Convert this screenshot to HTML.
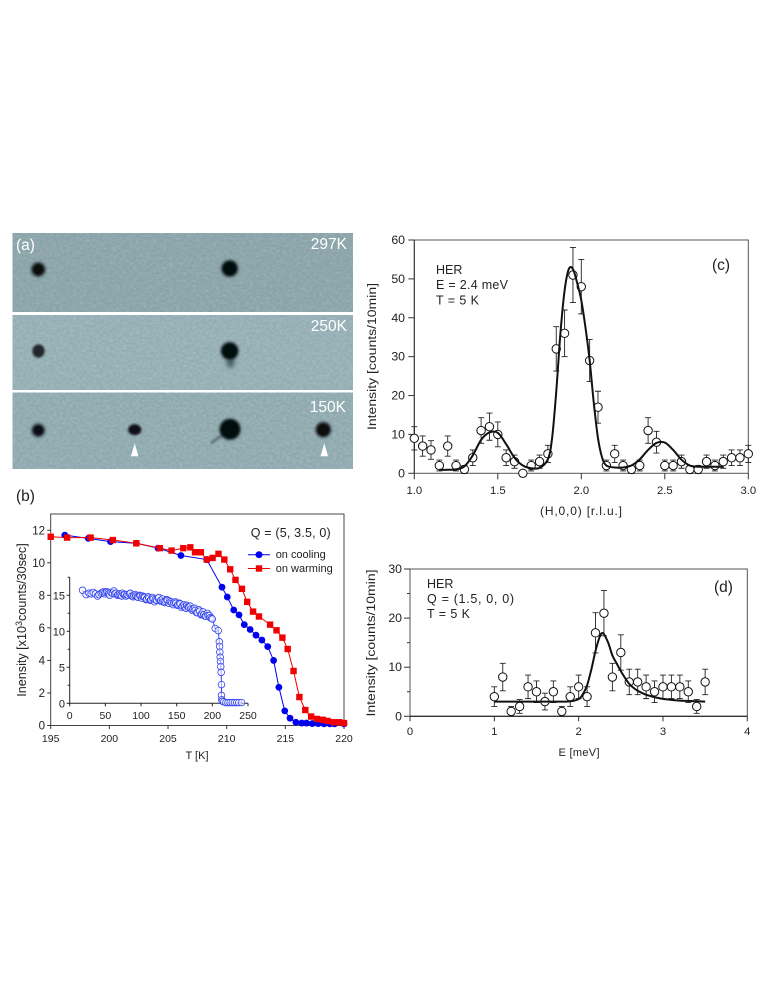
<!DOCTYPE html>
<html lang="en">
<head>
<meta charset="utf-8">
<title>Neutron scattering figure</title>
<style>
html,body{margin:0;padding:0;background:#fff;}
svg{display:block;}
text{font-family:"Liberation Sans",Arial,sans-serif;fill:#222;}
</style>
</head>
<body>
<svg id="fig" xmlns="http://www.w3.org/2000/svg" width="763" height="987" viewBox="0 0 763 987">
  <defs>
    <filter id="noise" x="0" y="0" width="100%" height="100%">
      <feTurbulence type="fractalNoise" baseFrequency="0.3 0.4" numOctaves="2" seed="7"/>
      <feColorMatrix type="matrix" values="0 0 0 0 1  0 0 0 0 1  0 0 0 0 1  1.6 0 0 0 -0.55"/>
    </filter>
    <filter id="blur1" x="-50%" y="-50%" width="200%" height="200%"><feGaussianBlur stdDeviation="1"/></filter>
    <filter id="blur2" x="-100%" y="-100%" width="300%" height="300%"><feGaussianBlur stdDeviation="2"/></filter>
  </defs>

  <g id="panel-a">
    <rect x="12.5" y="233" width="340.5" height="79" fill="#89a3a8"/>
    <rect x="12.5" y="233" width="340.5" height="79" fill="#fff" filter="url(#noise)" opacity="0.18"/>
    <rect x="12.5" y="315" width="340.5" height="75" fill="#93aeb3"/>
    <rect x="12.5" y="315" width="340.5" height="75" fill="#fff" filter="url(#noise)" opacity="0.2"/>
    <rect x="12.5" y="392.5" width="340.5" height="76.5" fill="#8ea9ae"/>
    <rect x="12.5" y="392.5" width="340.5" height="76.5" fill="#fff" filter="url(#noise)" opacity="0.2"/>

    <circle cx="38.3" cy="269.5" r="8.4" fill="#4a5c60" opacity="0.55" filter="url(#blur1)"/>
    <circle cx="38.3" cy="269.5" r="6.2" fill="#0a0b0c" filter="url(#blur1)"/>
    <circle cx="229.7" cy="268.5" r="9.6" fill="#4a5c60" opacity="0.55" filter="url(#blur1)"/>
    <circle cx="229.7" cy="268.5" r="7.6" fill="#060707" filter="url(#blur1)"/>
    <ellipse cx="38.5" cy="351" rx="6.2" ry="6.6" fill="#20262a" filter="url(#blur1)"/>
    <ellipse cx="230.5" cy="361" rx="4" ry="7" fill="#4a5e62" filter="url(#blur2)"/>
    <circle cx="229.7" cy="351" r="10" fill="#4a5c60" opacity="0.55" filter="url(#blur1)"/>
    <circle cx="229.7" cy="351" r="8.2" fill="#060707" filter="url(#blur1)"/>
    <circle cx="38.3" cy="430.3" r="8" fill="#4a5c60" opacity="0.5" filter="url(#blur1)"/>
    <circle cx="38.3" cy="430.3" r="5.8" fill="#0f1112" filter="url(#blur1)"/>
    <ellipse cx="134.7" cy="429.7" rx="6.6" ry="5.4" fill="#0f1112" filter="url(#blur1)"/>
    <path d="M224 434 L211 443" stroke="#566b6f" stroke-width="2.5" filter="url(#blur1)"/>
    <circle cx="230" cy="429.3" r="11.8" fill="#4a5c60" opacity="0.5" filter="url(#blur1)"/>
    <circle cx="230" cy="429.3" r="10" fill="#060707" filter="url(#blur1)"/>
    <circle cx="323.3" cy="429.7" r="9" fill="#4a5c60" opacity="0.5" filter="url(#blur1)"/>
    <circle cx="323.3" cy="429.7" r="7" fill="#090a0b" filter="url(#blur1)"/>
    <polygon points="134.7,443.3 131,456.3 138.4,456.3" fill="#fff"/>
    <polygon points="324.3,443.3 320.6,456.3 328,456.3" fill="#fff"/>

    <text x="16" y="250" font-size="15.5" style="fill:#fff">(a)</text>
    <text x="347" y="249" font-size="15.5" text-anchor="end" style="fill:#fff">297K</text>
    <text x="347" y="331" font-size="15.5" text-anchor="end" style="fill:#fff">250K</text>
    <text x="346" y="412" font-size="15.5" text-anchor="end" style="fill:#fff">150K</text>
  </g>

  <g id="panel-b">
    <text x="16" y="501" font-size="15.5">(b)</text>
    <rect x="50.7" y="514" width="293.3" height="211.5" fill="none" stroke="#444" stroke-width="1"/>
    <text transform="translate(26 620) rotate(-90)" text-anchor="middle" font-size="12.6">Inensity [x10<tspan dy="-4" font-size="9">3</tspan><tspan dy="4">counts/30sec]</tspan></text>
    <text x="197" y="759" text-anchor="middle" font-size="11">T [K]</text>
    <text x="250.7" y="537" font-size="12.5" textLength="80" lengthAdjust="spacing">Q = (5, 3.5, 0)</text>
    <line x1="248" y1="554.7" x2="270" y2="554.7" stroke="#0000f0" stroke-width="1"/>
    <circle cx="259" cy="554.7" r="3.5" fill="#0000f0"/>
    <text x="275.7" y="558" font-size="11" textLength="50" lengthAdjust="spacing">on cooling</text>
    <line x1="248" y1="568.5" x2="270" y2="568.5" stroke="#f00000" stroke-width="1"/>
    <rect x="255.8" y="565.3" width="6.4" height="6.4" fill="#f00000"/>
    <text x="275.7" y="572" font-size="11" textLength="57" lengthAdjust="spacing">on warming</text>
  </g>

  <g id="panel-c">
    <rect x="414.3" y="240" width="334" height="233.3" fill="none" stroke="#555" stroke-width="1"/>
    <line x1="414.3" y1="240" x2="414.3" y2="473.3" stroke="#333" stroke-width="1"/>
    <text transform="translate(376 356.5) rotate(-90)" text-anchor="middle" font-size="12.4" textLength="147" lengthAdjust="spacingAndGlyphs">Intensity [counts/10min]</text>
    <text x="581" y="515" text-anchor="middle" font-size="12" textLength="82" lengthAdjust="spacing">(H,0,0) [r.l.u.]</text>
    <text x="436" y="274" font-size="12.5">HER</text>
    <text x="436" y="289" font-size="12.5" textLength="72" lengthAdjust="spacing">E = 2.4 meV</text>
    <text x="436" y="304.5" font-size="12.5" textLength="43" lengthAdjust="spacing">T = 5 K</text>
    <text x="712" y="270" font-size="15.5">(c)</text>
  </g>

  <g id="panel-d">
    <rect x="410" y="569" width="337.3" height="147.3" fill="none" stroke="#555" stroke-width="1"/>
    <line x1="410" y1="716.3" x2="747.3" y2="716.3" stroke="#111" stroke-width="1"/>
    <text transform="translate(375 643) rotate(-90)" text-anchor="middle" font-size="12.4" textLength="147" lengthAdjust="spacingAndGlyphs">Intensity [counts/10min]</text>
    <text x="579" y="756" text-anchor="middle" font-size="11" textLength="41" lengthAdjust="spacing">E [meV]</text>
    <text x="427" y="588" font-size="12.5">HER</text>
    <text x="427" y="603" font-size="12.5" textLength="87" lengthAdjust="spacing">Q = (1.5, 0, 0)</text>
    <text x="427" y="618" font-size="12.5" textLength="43" lengthAdjust="spacing">T = 5 K</text>
    <text x="714" y="592" font-size="15.5">(d)</text>
  </g>
</svg>

<script>
// Panel (b) main data
const tCooling = [196.2,198.2,200.1,202.3,204.15,206.1,208.3,209.6,210.05,210.6,211.05,211.5,212,212.5,213,213.5,214,214.45,214.95,215.4,215.9,216.4,216.8,217.3,217.8,218.3,218.8,219.2,220];
const iCooling = [11.7,11.5,11.3,11.2,10.9,10.45,10.2,8.5,7.9,7.1,6.8,6.2,5.9,5.55,5.25,4.85,4.0,2.35,0.9,0.45,0.2,0.15,0.15,0.12,0.12,0.1,0.1,0.1,0.1];
const tWarming = [195,196.4,198.4,200.3,202.3,204.3,205.3,206.3,206.9,207.3,207.8,208.3,208.8,209.3,209.8,210.3,210.75,211.3,211.75,212.25,212.75,213.7,214.25,214.75,215.2,215.7,216.2,216.7,217.2,217.7,218.2,218.6,219.1,219.6,220];
const iWarming = [11.6,11.55,11.55,11.4,11.2,10.9,10.75,10.9,10.95,10.65,10.65,10.2,10.3,10.55,10.2,9.6,8.95,8.4,7.6,7,6.7,6.2,5.85,5.4,4.7,3.35,1.75,0.95,0.55,0.4,0.35,0.28,0.2,0.2,0.15];
const bXTicks = [195,200,205,210,215,220];
const bYTicks = [0,2,4,6,8,10,12];

// Panel (b) inset data
const tInset = [18,23,27,30,33,36,39,41,44,46,48,49,50,52,54,55,56,58,60,62,63,65,67,68,70,71,73,74,76,77,79,80,82,84,85,87,89,90,92,93,95,96,98,99,101,102,104,105,107,108,110,111,113,114,116,117,119,120,122,124,125,127,128,130,131,133,134,136,137,139,140,142,143,145,146,148,149,151,152,154,155,157,158,160,161,163,164,166,167,169,170,172,173,175,176,178,179,181,182,184,185,187,188,190,191,193,194,196,197,199,200,204,208.3,209.8,210.2,210.5,211,211.4,211.8,212.4,212.8,212.8,213.2,214,216,219,222,225,228,231,234,237,241];
const iInset = [15.7,15.1,15.3,15.2,15.4,15.2,14.9,15.1,15.3,15.4,15.5,15.2,15.4,15.5,15.4,15.2,15,15.4,15.3,15.6,15.2,15.3,15,15.1,15.2,15,14.9,15.3,15.1,15.1,14.9,15.1,15,15.2,15.3,14.9,14.8,15,15.1,14.9,14.8,14.7,15,14.9,14.6,14.9,14.8,14.7,14.4,14.5,14.8,14.6,14.3,14.4,14.7,14.5,14.1,14.4,14.3,14.6,14.7,14.2,14.3,14.5,14.1,14,14.2,14.4,14.3,13.9,14.2,14.1,13.9,13.7,14,14.1,13.9,13.6,13.7,13.9,13.8,13.3,13.5,13.7,13.4,13.2,13.6,13.4,13.3,13.5,13.1,12.9,13.1,13.2,12.9,12.6,12.6,13,12.8,12.3,12.4,12.7,12.3,12.1,12.1,12.5,12.2,12.2,11.9,11.8,11.7,10.4,10.1,8.55,7.9,7.1,6.4,5.8,5.1,4.3,2.6,1.1,0.5,0.3,0.2,0.1,0.1,0.1,0.1,0.1,0.1,0.1,0.1];
const insetXTicks = [0,50,100,150,200,250];
const insetYTicks = [0,5,10,15];
const insetYMinor = [2.5,7.5,12.5,17.5];

// Panel (c) data
const hValues = [1.0,1.05,1.1,1.15,1.2,1.25,1.3,1.35,1.4,1.45,1.5,1.55,1.6,1.65,1.7,1.75,1.8,1.85,1.9,1.95,2.0,2.05,2.1,2.15,2.2,2.25,2.3,2.35,2.4,2.45,2.5,2.55,2.6,2.65,2.7,2.75,2.8,2.85,2.9,2.95,3.0];
const countsC = [9,7,6,2,7,2,1,4,11,12,10,4,3,0,2,3,5,32,36,51,48,29,17,2,5,2,1,2,11,8,2,2,3,1,1,3,2,3,4,4,5];
const errC = [3,2.6,2.4,1.4,2.6,1.4,1,2,3.3,3.5,3.2,2,1.7,0,1.4,1.7,2.2,5.7,6,7.1,7,5.4,4.1,1.4,2.2,1.4,1,1.4,3.3,2.8,1.4,1.4,1.7,1,1,1.7,1.4,1.7,2,2,2.2];
const fitHC = [1.15,1.2,1.25,1.3,1.35,1.4,1.45,1.5,1.55,1.6,1.65,1.7,1.75,1.8,1.825,1.85,1.875,1.9,1.925,1.95,1.975,2.0,2.025,2.05,2.075,2.1,2.125,2.15,2.2,2.25,2.3,2.35,2.4,2.45,2.5,2.55,2.6,2.65,2.7,2.75,2.85];
const fitC = [0.9,0.9,1,1.8,4.6,8.6,10.5,10.4,7.5,4,2,1.3,1.4,3.6,9,21,36,47,52.5,52.5,49,44.5,37.5,29,18,9,4,2,1.5,1.5,2,3.6,6,7.8,7.9,6,3.5,2,1.7,1.7,1.7];
const cXTicks = [1.0,1.5,2.0,2.5,3.0];
const cYTicks = [0,10,20,30,40,50,60];

// Panel (d) data
const eValues = [1.0,1.1,1.2,1.3,1.4,1.5,1.6,1.7,1.8,1.9,2.0,2.1,2.2,2.3,2.4,2.5,2.6,2.7,2.8,2.9,3.0,3.1,3.2,3.3,3.4,3.5];
const countsD = [4,8,1,2,6,5,3,5,1,4,6,4,17,21,8,13,7,7,6,5,6,6,6,5,2,7];
const errD = [2,2.8,1,1.4,2.4,2.2,1.7,2.2,1,2,2.4,2,4.1,4.6,2.8,3.6,2.6,2.6,2.4,2.2,2.4,2.4,2.4,2.2,1.4,2.6];
const fitED = [1.0,1.3,1.6,1.8,1.9,2.0,2.05,2.1,2.15,2.2,2.25,2.29,2.35,2.4,2.45,2.5,2.6,2.7,2.8,2.9,3.0,3.1,3.2,3.35,3.5];
const fitD = [3,3,3,3,3.05,3.5,4.5,6.3,9.5,13.3,16.2,16.9,15,12.4,10.8,9.2,6.6,5.2,4.4,3.9,3.55,3.35,3.2,3.1,3];
const dXTicks = [0,1,2,3,4];
const dYTicks = [0,10,20,30];
const dYMinor = [5,15,25];

const NS = 'http://www.w3.org/2000/svg';
function linear(d0, d1, r0, r1) {
  return function (v) { return r0 + (v - d0) * (r1 - r0) / (d1 - d0); };
}
function node(parent, tag, attrs) {
  const el = document.createElementNS(NS, tag);
  for (const k in attrs) el.setAttribute(k, attrs[k]);
  parent.appendChild(el);
  return el;
}
function smoothPath(xs, ys, sx, sy) {
  const p = xs.map(function (x, i) { return [sx(x), sy(ys[i])]; });
  let d = 'M' + p[0][0].toFixed(2) + ' ' + p[0][1].toFixed(2);
  for (let i = 0; i < p.length - 1; i++) {
    const a = p[Math.max(i - 1, 0)], b = p[i], c = p[i + 1], e = p[Math.min(i + 2, p.length - 1)];
    const k = 1 / 6;
    d += ' C' + (b[0] + (c[0] - a[0]) * k).toFixed(2) + ' ' + (b[1] + (c[1] - a[1]) * k).toFixed(2) +
         ' ' + (c[0] - (e[0] - b[0]) * k).toFixed(2) + ' ' + (c[1] - (e[1] - b[1]) * k).toFixed(2) +
         ' ' + c[0].toFixed(2) + ' ' + c[1].toFixed(2);
  }
  return d;
}
function polyPoints(xs, ys, sx, sy) {
  return xs.map(function (x, i) { return sx(x).toFixed(2) + ',' + sy(ys[i]).toFixed(2); }).join(' ');
}
function xAxisTicks(parent, ticks, sx, y0, len, labelY, size, fmt, stroke) {
  ticks.forEach(function (t) {
    const tick = node(parent, 'line', { x1: sx(t), x2: sx(t), y1: y0, y2: y0 + len, stroke: stroke, 'stroke-width': 1 });
    
    
    const lab = node(parent, 'text', { x: sx(t), y: labelY, 'text-anchor': 'middle', 'font-size': size });
    lab.textContent = fmt(t);
    
    
  });
}
function yAxisTicks(parent, ticks, sy, x0, len, labelX, size, stroke) {
  ticks.forEach(function (t) {
    const tick = node(parent, 'line', { x1: x0 - len, x2: x0, y1: sy(t), y2: sy(t), stroke: stroke, 'stroke-width': 1 });
    
    
    const lab = node(parent, 'text', { x: labelX, y: sy(t) + 4, 'text-anchor': 'end', 'font-size': size });
    lab.textContent = String(t);
    
    
  });
}
function yMinorTicks(parent, ticks, sy, x0, len, stroke) {
  ticks.forEach(function (t) {
    const tick = node(parent, 'line', { x1: x0 - len, x2: x0, y1: sy(t), y2: sy(t), stroke: stroke, 'stroke-width': 1 });
    
    
  });
}
function errorPlot(parent, xs, ys, errs, sx, sy) {
  xs.forEach(function (x, i) {
    const cx = sx(x), top = sy(ys[i] + errs[i]), bot = sy(ys[i] - errs[i]);
    const bar = node(parent, 'path', {
      d: 'M' + cx + ' ' + top + 'V' + bot + 'M' + (cx - 3) + ' ' + top + 'H' + (cx + 3) + 'M' + (cx - 3) + ' ' + bot + 'H' + (cx + 3),
      fill: 'none', stroke: '#222', 'stroke-width': 0.9
    });
    
    
  });
}
function openPoints(parent, xs, ys, sx, sy) {
  xs.forEach(function (x, i) {
    const pt = node(parent, 'circle', { cx: sx(x), cy: sy(ys[i]), r: 4.2, fill: '#fff', stroke: '#111', 'stroke-width': 1 });
    
    
  });
}

// ---- Panel (b)
(function () {
  const g = document.getElementById('panel-b');
  const sx = linear(195, 220, 50.7, 344);
  const sy = linear(0, 13, 725.5, 514);
  xAxisTicks(g, bXTicks, sx, 725.5, 3.5, 742, 10.5, function (t) { return String(t); }, '#333');
  yAxisTicks(g, bYTicks, sy, 50.7, 3.5, 45, 11.5, '#333');

  const lineCool = node(g, 'polyline', { points: polyPoints(tCooling, iCooling, sx, sy), fill: 'none', stroke: '#0000f0', 'stroke-width': 1 });
  
  
  tCooling.forEach(function (t, i) {
    const m = node(g, 'circle', { cx: sx(t), cy: sy(iCooling[i]), r: 3.4, fill: '#0000f0' });
    
    
  });
  const lineWarm = node(g, 'polyline', { points: polyPoints(tWarming, iWarming, sx, sy), fill: 'none', stroke: '#f00000', 'stroke-width': 1 });
  
  
  tWarming.forEach(function (t, i) {
    const m = node(g, 'rect', { x: sx(t) - 3.2, y: sy(iWarming[i]) - 3.2, width: 6.4, height: 6.4, fill: '#f00000' });
    
    
  });

  // Inset
  const ix = linear(0, 250, 69.7, 248);
  const iy = linear(0, 15, 703.3, 595.3);
  const inset = node(g, 'g', {});
  
  
  const ax = node(inset, 'path', { d: 'M' + ix(0) + ' ' + iy(17.5) + 'V' + iy(0) + 'H' + ix(250), fill: 'none', stroke: '#222', 'stroke-width': 1 });
  
  
  const insetLine = node(inset, 'polyline', { points: polyPoints(tInset, iInset, ix, iy), fill: 'none', stroke: '#3344ee', 'stroke-width': 1 });
  
  
  tInset.forEach(function (t, i) {
    const m = node(inset, 'circle', { cx: ix(t), cy: iy(iInset[i]), r: 3.3, fill: '#fff', 'fill-opacity': 0.5, stroke: '#3344ee', 'stroke-width': 0.8 });
    
    
  });
  xAxisTicks(inset, insetXTicks, ix, 703.3, 3, 719, 10.5, function (t) { return String(t); }, '#222');
  yAxisTicks(inset, insetYTicks, iy, 69.7, 3, 65, 11, '#222');
  yMinorTicks(inset, insetYMinor, iy, 69.7, 2, '#222');
})();

// ---- Panel (c)
(function () {
  const g = document.getElementById('panel-c');
  const sx = linear(1, 3, 414.3, 748.3);
  const sy = linear(0, 60, 473.3, 240);
  xAxisTicks(g, cXTicks, sx, 473.3, 6, 494, 11.3, function (t) { return t.toFixed(1); }, '#333');
  yAxisTicks(g, cYTicks, sy, 414.3, 6, 405, 12.3, '#333');
  errorPlot(g, hValues, countsC, errC, sx, sy);
  openPoints(g, hValues, countsC, sx, sy);
  const fit = node(g, 'path', { d: smoothPath(fitHC, fitC, sx, sy), fill: 'none', stroke: '#111', 'stroke-width': 2 });
  
  
})();

// ---- Panel (d)
(function () {
  const g = document.getElementById('panel-d');
  const sx = linear(0, 4, 410, 747.3);
  const sy = linear(0, 30, 716.3, 569);
  xAxisTicks(g, dXTicks, sx, 716.3, 5, 735, 11.3, function (t) { return String(t); }, '#333');
  yAxisTicks(g, dYTicks, sy, 410, 6, 402, 12.3, '#333');
  yMinorTicks(g, dYMinor, sy, 410, 3, '#333');
  errorPlot(g, eValues, countsD, errD, sx, sy);
  openPoints(g, eValues, countsD, sx, sy);
  const fit = node(g, 'path', { d: smoothPath(fitED, fitD, sx, sy), fill: 'none', stroke: '#111', 'stroke-width': 2 });
  
  
})();
</script>
</body>
</html>
